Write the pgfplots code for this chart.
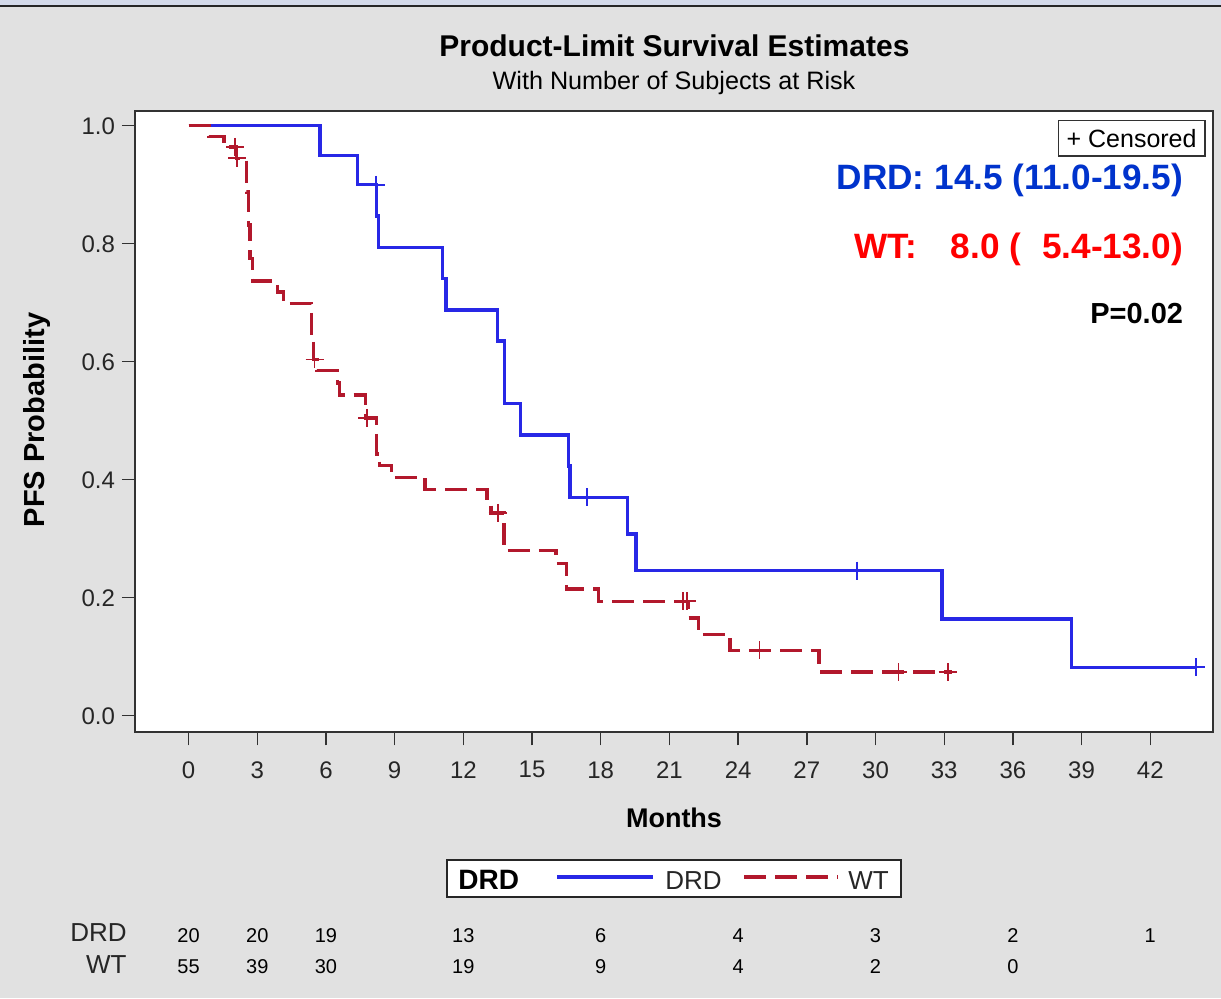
\documentclass[border=0pt]{standalone}
\usepackage{fontspec}
\setmainfont{Liberation Sans}
\usepackage{pgfplots}
\pgfplotsset{compat=1.18}
\usepackage{pgfplotstable}

\definecolor{panelgray}{RGB}{225,225,225}
\definecolor{bandblue}{RGB}{212,218,234}
\definecolor{drdline}{RGB}{40,40,230}
\definecolor{wtline}{RGB}{178,24,44}
\definecolor{drdtext}{RGB}{0,51,204}
\definecolor{wttext}{RGB}{255,0,0}
\definecolor{framegray}{RGB}{50,50,50}

% Kaplan-Meier estimates (months, survival) for each group
\pgfplotstableread{
t s
0 1
5.74 0.950
7.39 0.900
8.22 0.847
8.29 0.794
11.10 0.741
11.25 0.688
13.50 0.635
13.80 0.529
14.50 0.476
16.60 0.423
16.65 0.370
19.17 0.308
19.54 0.246
32.90 0.164
38.56 0.082
43.98 0.082
}\drdcurve

\pgfplotstableread{
t s
0 1
0.90 0.982
1.55 0.964
2.08 0.945
2.54 0.888
2.61 0.832
2.68 0.775
2.80 0.737
3.88 0.718
4.14 0.699
5.37 0.642
5.45 0.604
5.60 0.585
6.50 0.564
6.60 0.544
7.72 0.505
8.20 0.444
8.35 0.424
8.87 0.404
10.33 0.384
13.03 0.364
13.20 0.344
13.78 0.280
16.05 0.258
16.50 0.215
17.90 0.194
21.83 0.166
22.26 0.138
23.65 0.111
27.53 0.074
33.35 0.074
}\wtcurve

% censored observations
\pgfplotstableread{
t s
8.18 0.900
17.40 0.370
29.20 0.246
43.98 0.082
}\drdcens

\pgfplotstableread{
t s
2.03 0.964
2.12 0.945
5.50 0.604
7.80 0.505
13.50 0.344
21.60 0.194
21.75 0.194
24.93 0.111
31.00 0.074
33.15 0.074
}\wtcens

% number of subjects at risk (row position given in axis units)
\pgfplotstableread{
t y n
0 -0.3836 20
3 -0.3836 20
6 -0.3836 19
12 -0.3836 13
18 -0.3836 6
24 -0.3836 4
30 -0.3836 3
36 -0.3836 2
42 -0.3836 1
}\riskdrd

\pgfplotstableread{
t y n
0 -0.4361 55
3 -0.4361 39
6 -0.4361 30
12 -0.4361 19
18 -0.4361 9
24 -0.4361 4
30 -0.4361 2
36 -0.4361 0
}\riskwt

\tikzset{
  drdstyle/.style={draw=drdline, line width=1.7pt},
  wtstyle/.style={draw=wtline, line width=1.7pt, dash pattern=on 11pt off 4.5pt},
}

\begin{document}
\begin{tikzpicture}
% panel background
\fill[panelgray] (0pt,0pt) rectangle (610.5pt,499pt);
\useasboundingbox (0pt,0pt) rectangle (610.5pt,499pt);
\fill[bandblue] (0pt,496pt) rectangle (610.5pt,499pt);
\draw[black!85, line width=1pt] (0pt,495.8pt) -- (610.5pt,495.8pt);

\begin{axis}[
  at={(67.5pt,132.85pt)}, anchor=south west,
  scale only axis, width=539pt, height=310.65pt,
  xmin=-2.34, xmax=44.74, ymin=-0.028, ymax=1.025,
  clip=false,
  axis background/.style={fill=white},
  axis line style={draw=framegray, line width=1pt},
  tick style={draw=framegray, line width=0.7pt},
  tick align=outside, major tick length=6.5pt,
  xtick={0,3,...,42}, ytick={0,0.2,0.4,0.6,0.8,1.0},
  xtick pos=bottom, ytick pos=left,
  /pgf/number format/assume math mode=true,
  xticklabel style={font=\fontsize{12}{14}\selectfont, text=black!85, yshift=-4.5pt},
  yticklabel style={font=\fontsize{12}{14}\selectfont, text=black!85,
    /pgf/number format/fixed, /pgf/number format/fixed zerofill,
    /pgf/number format/precision=1},
]
\addplot[const plot, drdstyle, mark=none] table[x=t, y=s] {\drdcurve};
\addplot[only marks, mark=+, mark size=4.5pt, draw=drdline, mark options={line width=0.9pt, solid}] table[x=t, y=s] {\drdcens};
\addplot[const plot, wtstyle, mark=none] table[x=t, y=s] {\wtcurve};
\addplot[only marks, mark=+, mark size=4.5pt, draw=wtline, mark options={line width=0.9pt, solid}] table[x=t, y=s] {\wtcens};

\addplot[draw=none, mark=none, nodes near coords, point meta=explicit symbolic,
  every node near coord/.style={anchor=base, inner sep=0pt, font=\fontsize{10}{12}\selectfont}]
  table[x=t, y=y, meta=n] {\riskdrd};
\addplot[draw=none, mark=none, nodes near coords, point meta=explicit symbolic,
  every node near coord/.style={anchor=base, inner sep=0pt, font=\fontsize{10}{12}\selectfont}]
  table[x=t, y=y, meta=n] {\riskwt};
\end{axis}

% titles
\node[anchor=base, font=\bfseries\fontsize{15}{18}\selectfont] at (337.2pt,470.7pt) {Product-Limit Survival Estimates};
\node[anchor=base, font=\fontsize{12.6}{15}\selectfont] at (337pt,454pt) {With Number of Subjects at Risk};

% axis titles
\node[rotate=90, anchor=center, font=\bfseries\fontsize{14.5}{17}\selectfont] at (18.5pt,289pt) {PFS Probability};
\node[anchor=base, font=\bfseries\fontsize{13.5}{16}\selectfont] at (337pt,85.5pt) {Months};

% censored key
\node[draw=framegray, line width=0.8pt, fill=white, minimum width=73.3pt, minimum height=17.7pt, inner sep=0pt,
  font=\fontsize{12.5}{15}\selectfont] at (565.8pt,429.8pt) {+ Censored};

% median PFS annotations
\node[anchor=base east, inner sep=0pt, text=drdtext, font=\bfseries\fontsize{17.6}{20}\selectfont] at (591.7pt,404pt) {DRD: 14.5 (11.0-19.5)};
\node[anchor=base east, inner sep=0pt, text=wttext, font=\bfseries\fontsize{17.6}{20}\selectfont] at (591.7pt,369.8pt) {WT:\hspace{16.8pt}8.0 (\hspace{10.5pt}5.4-13.0)};
\node[anchor=base east, inner sep=0pt, font=\bfseries\fontsize{14.5}{17}\selectfont] at (591.7pt,337.3pt) {P=0.02};

% group key
\draw[fill=white, draw=black!85, line width=0.8pt] (223.5pt,50.5pt) rectangle (450.5pt,69pt);
\node[anchor=base west, inner sep=0pt, font=\bfseries\fontsize{14}{16}\selectfont] at (229pt,54.5pt) {DRD};
\draw[drdstyle] (278.5pt,60.5pt) -- (326.5pt,60.5pt);
\node[anchor=base west, inner sep=0pt, font=\fontsize{13}{15}\selectfont, text=black!85] at (332.5pt,54.5pt) {DRD};
\draw[wtstyle] (372pt,60.5pt) -- (419pt,60.5pt);
\node[anchor=base west, inner sep=0pt, font=\fontsize{13}{15}\selectfont, text=black!85] at (424pt,54.5pt) {WT};

% at-risk row labels
\node[anchor=base east, inner sep=0pt, font=\fontsize{13}{15}\selectfont, text=black!85] at (63.5pt,28.2pt) {DRD};
\node[anchor=base east, inner sep=0pt, font=\fontsize{13}{15}\selectfont, text=black!85] at (63.5pt,12.3pt) {WT};
\end{tikzpicture}
\end{document}
